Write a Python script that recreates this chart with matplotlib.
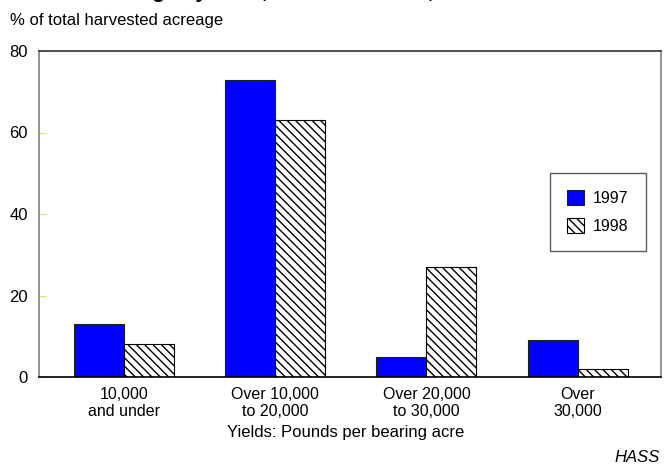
import matplotlib
matplotlib.use("Agg")
import matplotlib.pyplot as plt
import numpy as np

plt.rcParams['font.family'] = ['Liberation Sans', 'DejaVu Sans']

# yield classes (pounds per bearing acre)
categories = ["10,000\nand under", "Over 10,000\nto 20,000", "Over 20,000\nto 30,000", "Over\n30,000"]
pct_1997 = [13, 73, 5, 9]
pct_1998 = [8, 63, 27, 2]
yticks = [0, 20, 40, 60, 80]

fig = plt.figure(figsize=(6.64, 4.68), dpi=100)
ax = fig.add_axes([39/664, 91/468, 622/664, 326/468])

x = np.arange(len(categories))
w = 0.33
ax.bar(x - w/2, pct_1997, w, color="#0000ff", edgecolor="#202020", linewidth=0.8, label="1997")
ax.bar(x + w/2, pct_1998, w, color="white", edgecolor="black", linewidth=0.8,
       hatch="\\\\\\\\", label="1998")

ax.set_xlim(-0.56, 3.55)
ax.set_ylim(0, 80)
ax.set_yticks(yticks)
ax.set_xticks(x)
ax.set_xticklabels(categories, fontsize=11.5)
ax.tick_params(axis="x", length=0, pad=7)
ax.tick_params(axis="y", direction="in", length=5, color="#e8e860", labelsize=12, pad=8)

ax.spines["left"].set_color("#808080")
ax.spines["right"].set_color("#808080")
ax.spines["top"].set_color("#303030")
ax.spines["bottom"].set_color("black")
for s in ax.spines.values():
    s.set_linewidth(1.2)

leg = ax.legend(loc="upper left", bbox_to_anchor=(550/664, (468-173)/468),
                bbox_transform=fig.transFigure, fontsize=11.5, fancybox=False,
                edgecolor="#303030", handlelength=1.1, handleheight=1.1,
                borderpad=1.05, labelspacing=0.75, handletextpad=0.55, borderaxespad=0)
leg.get_frame().set_linewidth(1.0)

# title is cut off at the top edge in the original, only descenders show
fig.text(94/664, 1 + 2.5/468, "Acreage by Yield, Hass Avocados, 1997 and 1998",
         fontsize=15, fontweight="bold", va="baseline", ha="left")
fig.text(10/664, 1 - 20/468, "% of total harvested acreage", fontsize=12, va="center", ha="left")
fig.text(346/664, 1 - 432/468, "Yields: Pounds per bearing acre", fontsize=12, va="center", ha="center")
fig.text(660/664, 1 - 458/468, "HASS", fontsize=12, style="italic", va="center", ha="right")

fig.savefig("out.png", dpi=100)
